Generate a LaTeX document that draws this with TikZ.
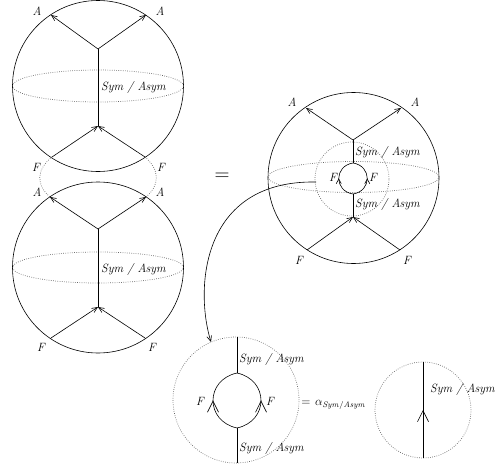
\documentclass[tikz,border=0pt]{standalone}
\usetikzlibrary{arrows.meta,decorations.markings}
\begin{document}
\begin{tikzpicture}[x=1pt,y=-1pt,
  ln/.style={line width=0.6pt},
  dotc/.style={black!60, line width=0.7pt, dash pattern=on 0.7pt off 1.5pt},
  lab/.style={font=\fontsize{12}{14}\selectfont\itshape, inner sep=0pt},
  arr/.style={ln,-{Straight Barb[length=5.5pt,width=4.8pt]}},
  midsmall/.style={ln,postaction={decorate},decoration={markings,mark=at position 0.5 with {\arrow{Straight Barb[length=4.5pt,width=5pt]}}}},
  midbig/.style={ln,postaction={decorate},decoration={markings,mark=at position 0.5 with {\arrow{Straight Barb[length=11pt,width=11pt]}}}}]
\useasboundingbox (0,0) rectangle (496,471);

% ---------- top-left sphere ----------
\coordinate (tc) at (98,86);
\draw[ln] (tc) circle[radius=85.5pt];
\draw[dotc] (tc) ellipse[x radius=85.5pt, y radius=16pt];
\coordinate (tj1) at (98,49);
\coordinate (tj2) at (98,126);
\coordinate (tA1) at (51,15);
\coordinate (tA2) at (146,15);
\coordinate (tF1) at (52,157);
\coordinate (tF2) at (145,157);
\draw[ln] (tj1) -- (tj2);
\draw[arr] (tj1) -- (tA1);
\draw[arr] (tj1) -- (tA2);
\draw[arr] (tF1) -- (tj2);
\draw[arr] (tF2) -- (tj2);
\node[lab] (tlA1) at (37,11) {A};
\node[lab] (tlA2) at (160,11) {A};
\node[lab,anchor=west] (tlS) at (101,87) {Sym / Asym};
\node[lab] (tlF1) at (36,167) {F};
\node[lab] (tlF2) at (161,167) {F};

% ---------- bottom-left sphere ----------
\coordinate (bc) at (98,267.5);
\draw[ln] (bc) circle[radius=85.5pt];
\draw[dotc] (bc) ellipse[x radius=85.5pt, y radius=15.5pt];
\coordinate (bj1) at (98,229);
\coordinate (bj2) at (98,307);
\coordinate (bA1) at (50,197);
\coordinate (bA2) at (146,197);
\coordinate (bF1) at (51,338);
\coordinate (bF2) at (145,338);
\draw[ln] (bj1) -- (bj2);
\draw[arr] (bj1) -- (bA1);
\draw[arr] (bj1) -- (bA2);
\draw[arr] (bF1) -- (bj2);
\draw[arr] (bF2) -- (bj2);
\node[lab] (blA1) at (37,192) {A};
\node[lab] (blA2) at (160,192) {A};
\node[lab,anchor=west] (blS) at (101,269) {Sym / Asym};
\node[lab] (blF1) at (41,347) {F};
\node[lab] (blF2) at (152,347) {F};

% dotted joins between the spheres
\draw[dotc] (tF1) .. controls (36,170) and (36,185) .. (bA1);
\draw[dotc] (tF2) .. controls (160,170) and (160,185) .. (bA2);

% big equals
\node[font=\fontsize{20}{22}\selectfont, inner sep=0pt] (eq1) at (222,177) {$=$};

% ---------- right sphere ----------
\coordinate (rc) at (353.5,178);
\draw[ln] (rc) circle[radius=85.5pt];
\draw[dotc] (353.5,177) ellipse[x radius=85.5pt, y radius=15.5pt];
\coordinate (ric) at (352,179);
\draw[dotc] (ric) circle[radius=37pt];
\coordinate (rj1) at (353,140);
\coordinate (rl1) at (353,163);
\coordinate (rl2) at (353,194);
\coordinate (rj2) at (353,217);
\coordinate (rA1) at (306,108);
\coordinate (rA2) at (401,108);
\coordinate (rF1) at (307,250);
\coordinate (rF2) at (400,250);
\draw[ln] (rj1) -- (rl1);
\draw[ln] (rl2) -- (rj2);
\draw[midsmall] (rl2) .. controls (334,191) and (334,166) .. (rl1);
\draw[midsmall] (rl2) .. controls (372,191) and (372,166) .. (rl1);
\draw[arr] (rj1) -- (rA1);
\draw[arr] (rj1) -- (rA2);
\draw[arr] (rF1) -- (rj2);
\draw[arr] (rF2) -- (rj2);
\node[lab] (rlA1) at (292,102) {A};
\node[lab] (rlA2) at (415,102) {A};
\node[lab,anchor=west] (rlS1) at (355,152) {Sym / Asym};
\node[lab,anchor=west] (rlS2) at (355,204) {Sym / Asym};
\node[lab] (rlF1) at (333,177) {F};
\node[lab] (rlF2) at (373,177) {F};
\node[lab] (rlF3) at (299,260) {F};
\node[lab] (rlF4) at (407,260) {F};

% ---------- zoom-in curve ----------
\coordinate (cs) at (316,182);
\coordinate (ce) at (211,342);
\draw[arr] (cs) .. controls (200,180) and (195,290) .. (ce);

% ---------- lens diagram ----------
\coordinate (lc) at (236,400);
\draw[dotc] (lc) circle[radius=63pt];
\coordinate (lt) at (237,337);
\coordinate (ll1) at (237,373);
\coordinate (ll2) at (237,428);
\coordinate (lb) at (237,463);
\draw[ln] (lt) -- (ll1);
\draw[ln] (ll2) -- (lb);
\draw[midbig] (ll2) .. controls (205,421) and (205,380) .. (ll1);
\draw[midbig] (ll2) .. controls (269,421) and (269,380) .. (ll1);
\node[lab,anchor=west] (llS1) at (239,359) {Sym / Asym};
\node[lab,anchor=west] (llS2) at (239,448) {Sym / Asym};
\node[lab] (llF1) at (200,401) {F};
\node[lab] (llF2) at (270,401) {F};

\node[inner sep=0pt, font=\fontsize{12}{14}\selectfont] (eq2) at (306,403) {$=$};
\node[inner sep=0pt, anchor=west, font=\fontsize{12}{14}\selectfont] (alp) at (315,405) {$\alpha_{\mathit{Sym/Asym}}$};

% ---------- single line diagram ----------
\coordinate (sc) at (423,410);
\draw[dotc] (sc) circle[radius=48pt];
\coordinate (st) at (423,362);
\coordinate (sb) at (423,458);
\draw[midbig] (sb) -- (st);
\node[lab,anchor=west] (slS) at (430,389) {Sym / Asym};
\end{tikzpicture}
\end{document}
